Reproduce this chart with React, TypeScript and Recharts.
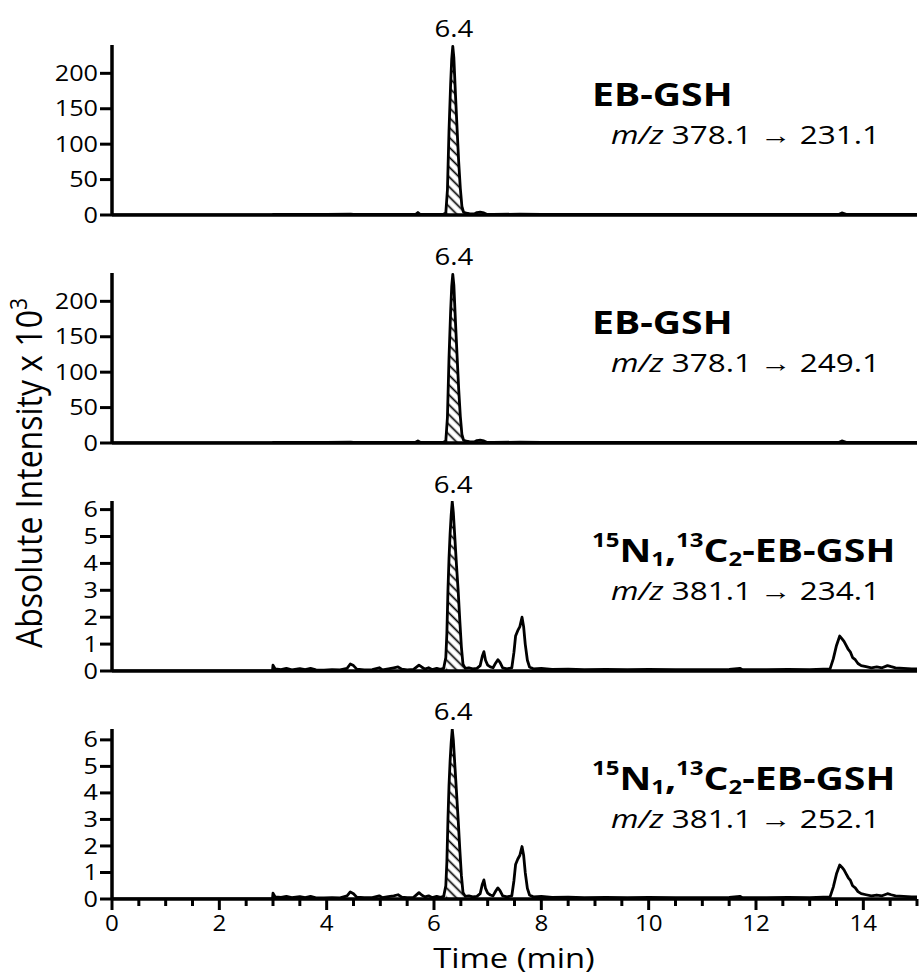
import React from 'react';
import { ComposedChart, Line, Area, XAxis, YAxis, ReferenceDot } from 'recharts';

const FONT = '"Open Sans", "Noto Sans", sans-serif';

// ---------- data ----------
// Panel 1: EB-GSH  m/z 378.1 -> 231.1 (x10^3)
const p1Time = [0, 2.99, 3.0, 3.5, 4.0, 4.45, 4.5, 5.0, 5.5, 5.66, 5.7, 5.74, 6.0, 6.18, 6.22, 6.25, 6.28, 6.31, 6.33, 6.35, 6.37, 6.4, 6.43, 6.46, 6.49, 6.52, 6.55, 6.6, 6.66, 6.75, 6.8, 6.86, 6.93, 6.98, 7.1, 7.6, 8, 9, 10, 11, 12, 13, 13.55, 13.6, 13.68, 14, 14.5, 15];
const p1Value = [0, 0, 1, 0.8, 1, 1.2, 1, 0.8, 1, 1, 3.5, 1, 0.8, 1, 3, 35, 120, 185, 220, 238, 222, 170, 122, 75, 38, 12, 4, 2.5, 2, 1.5, 3.5, 4, 3, 1, 0.8, 1.2, 0.8, 0.8, 0.8, 0.8, 0.8, 0.8, 1, 3, 1, 0.8, 0.8, 0.8];

// Panel 2: EB-GSH  m/z 378.1 -> 249.1 (x10^3)
const p2Time = [0, 2.99, 3.0, 3.5, 4.0, 4.45, 4.5, 5.0, 5.5, 5.66, 5.7, 5.74, 6.0, 6.18, 6.22, 6.25, 6.28, 6.31, 6.33, 6.35, 6.37, 6.4, 6.43, 6.46, 6.49, 6.52, 6.55, 6.6, 6.66, 6.75, 6.8, 6.86, 6.93, 6.98, 7.1, 7.6, 8, 9, 10, 11, 12, 13, 13.55, 13.6, 13.68, 14, 14.5, 15];
const p2Value = [0, 0, 1, 0.8, 1, 1.2, 1, 0.8, 1, 1, 3, 1, 0.8, 1, 3, 36, 121, 186, 221, 238, 223, 171, 123, 76, 38, 12, 4, 2.5, 2, 1.5, 3.5, 4, 3, 1, 0.8, 1.2, 0.8, 0.8, 0.8, 0.8, 0.8, 0.8, 1, 3, 1, 0.8, 0.8, 0.8];

// Panel 3: 15N1,13C2-EB-GSH  m/z 381.1 -> 234.1 (x10^3)
const p3Time = [0, 2.99, 3.0, 3.04, 3.15, 3.25, 3.35, 3.5, 3.6, 3.7, 3.8, 3.95, 4.1, 4.25, 4.38, 4.44, 4.5, 4.56, 4.7, 4.85, 4.98, 5.04, 5.15, 5.25, 5.33, 5.4, 5.5, 5.62, 5.72, 5.77, 5.83, 5.9, 5.97, 6.05, 6.12, 6.18, 6.22, 6.24, 6.26, 6.28, 6.3, 6.32, 6.34, 6.36, 6.39, 6.42, 6.45, 6.48, 6.51, 6.54, 6.58, 6.65, 6.72, 6.8, 6.86, 6.9, 6.93, 6.96, 7.0, 7.05, 7.1, 7.15, 7.19, 7.23, 7.28, 7.36, 7.45, 7.49, 7.52, 7.56, 7.6, 7.64, 7.67, 7.7, 7.74, 7.78, 7.85, 8.0, 8.2, 8.5, 8.8, 9.2, 9.6, 10.0, 10.5, 11.0, 11.5, 11.7, 11.75, 12.2, 12.6, 13.0, 13.38, 13.44, 13.5, 13.56, 13.6, 13.64, 13.68, 13.72, 13.76, 13.8, 13.85, 13.9, 13.96, 14.05, 14.15, 14.25, 14.35, 14.45, 14.52, 14.6, 14.75, 14.9, 15];
const p3Value = [0, 0, 0.22, 0.08, 0.05, 0.1, 0.04, 0.09, 0.05, 0.1, 0.04, 0.03, 0.05, 0.04, 0.1, 0.26, 0.2, 0.07, 0.04, 0.05, 0.12, 0.04, 0.08, 0.12, 0.15, 0.07, 0.04, 0.06, 0.22, 0.15, 0.07, 0.12, 0.05, 0.1, 0.06, 0.1, 0.5, 1.4, 3.0, 4.2, 5.1, 5.8, 6.3, 5.9, 4.9, 3.9, 3.0, 1.9, 0.9, 0.25, 0.1, 0.12, 0.08, 0.1, 0.2, 0.55, 0.72, 0.4, 0.22, 0.15, 0.12, 0.3, 0.42, 0.32, 0.12, 0.08, 0.12, 0.7, 1.3, 1.5, 1.65, 2.0, 1.65, 1.0, 0.4, 0.15, 0.08, 0.1, 0.06, 0.07, 0.05, 0.06, 0.05, 0.06, 0.05, 0.05, 0.06, 0.1, 0.05, 0.05, 0.06, 0.05, 0.08, 0.45, 0.95, 1.3, 1.2, 1.1, 0.95, 0.8, 0.7, 0.5, 0.42, 0.28, 0.2, 0.16, 0.12, 0.15, 0.12, 0.2, 0.16, 0.12, 0.1, 0.08, 0.08];

// Panel 4: 15N1,13C2-EB-GSH  m/z 381.1 -> 252.1 (x10^3)
const p4Time = [0, 2.99, 3.0, 3.04, 3.15, 3.25, 3.35, 3.5, 3.6, 3.7, 3.8, 3.95, 4.1, 4.25, 4.38, 4.44, 4.5, 4.56, 4.7, 4.85, 4.98, 5.04, 5.15, 5.25, 5.33, 5.4, 5.5, 5.62, 5.72, 5.77, 5.83, 5.9, 5.97, 6.05, 6.12, 6.18, 6.22, 6.24, 6.26, 6.28, 6.3, 6.32, 6.34, 6.36, 6.39, 6.42, 6.45, 6.48, 6.51, 6.54, 6.58, 6.65, 6.72, 6.8, 6.86, 6.9, 6.93, 6.96, 7.0, 7.05, 7.1, 7.15, 7.19, 7.23, 7.28, 7.36, 7.45, 7.49, 7.52, 7.56, 7.6, 7.64, 7.67, 7.7, 7.74, 7.78, 7.85, 8.0, 8.2, 8.5, 8.8, 9.2, 9.6, 10.0, 10.5, 11.0, 11.5, 11.7, 11.75, 12.2, 12.6, 13.0, 13.38, 13.44, 13.5, 13.56, 13.6, 13.64, 13.68, 13.72, 13.76, 13.8, 13.85, 13.9, 13.96, 14.05, 14.15, 14.25, 14.35, 14.45, 14.52, 14.6, 14.75, 14.9, 15];
const p4Value = [0, 0, 0.22, 0.08, 0.06, 0.1, 0.05, 0.09, 0.05, 0.1, 0.04, 0.04, 0.05, 0.04, 0.12, 0.27, 0.2, 0.07, 0.05, 0.05, 0.12, 0.05, 0.09, 0.12, 0.16, 0.07, 0.05, 0.06, 0.24, 0.15, 0.08, 0.12, 0.05, 0.1, 0.06, 0.1, 0.5, 1.4, 3.0, 4.3, 5.2, 5.9, 6.4, 6.0, 5.0, 4.0, 3.0, 1.9, 0.9, 0.25, 0.1, 0.12, 0.08, 0.1, 0.2, 0.55, 0.72, 0.4, 0.22, 0.15, 0.12, 0.3, 0.42, 0.32, 0.12, 0.08, 0.12, 0.7, 1.3, 1.5, 1.65, 1.98, 1.65, 1.0, 0.4, 0.15, 0.08, 0.1, 0.06, 0.07, 0.05, 0.06, 0.05, 0.06, 0.05, 0.05, 0.06, 0.1, 0.05, 0.05, 0.06, 0.05, 0.08, 0.45, 0.95, 1.28, 1.2, 1.1, 0.95, 0.8, 0.7, 0.5, 0.42, 0.28, 0.2, 0.16, 0.12, 0.15, 0.12, 0.2, 0.16, 0.12, 0.1, 0.08, 0.08];

const xMajorTicks = [0, 2, 4, 6, 8, 10, 12, 14];
const xAllTicks = [0, 0.5, 1, 1.5, 2, 2.5, 3, 3.5, 4, 4.5, 5, 5.5, 6, 6.5, 7, 7.5, 8, 8.5, 9, 9.5, 10, 10.5, 11, 11.5, 12, 12.5, 13, 13.5, 14, 14.5, 15];
const yTicksHigh = [0, 50, 100, 150, 200];
const yTicksLow = [0, 1, 2, 3, 4, 5, 6];
const yMaxes = [240, 240, 6.32, 6.41];
const peakTimes = [6.35, 6.35, 6.34, 6.34];
const peakLabels = ['6.4', '6.4', '6.4', '6.4'];
const hatchStart = 6.2;
const hatchEnd = 6.56;
const compounds = ['EB-GSH', 'EB-GSH', 'iso', 'iso'];
const precursors = ['378.1', '378.1', '381.1', '381.1'];
const products = ['231.1', '249.1', '234.1', '252.1'];

const buildData = (times: number[], values: number[]) =>
  times.map((t, i) => ({
    t,
    v: values[i],
    h: t >= hatchStart && t <= hatchEnd ? values[i] : null,
  }));

const panels = [
  { data: buildData(p1Time, p1Value), ticks: yTicksHigh },
  { data: buildData(p2Time, p2Value), ticks: yTicksHigh },
  { data: buildData(p3Time, p3Value), ticks: yTicksLow },
  { data: buildData(p4Time, p4Value), ticks: yTicksLow },
];

// ---------- layout ----------
const W = 919;
const PANEL_STEP = 228;
const PLOT_TOP = 45;
const PLOT_H = 170;

const YTick = (props: any) => {
  const { x, y, payload } = props;
  return (
    <text
      transform={`translate(${x},${y}) scale(1.2,1)`}
      textAnchor="end"
      dy="0.36em"
      fontSize={21}
      fontFamily={FONT}
      fontWeight={500}
      fill="#000"
    >
      {payload.value}
    </text>
  );
};

const XTick = (props: any) => {
  const { x, y, payload } = props;
  const v = payload.value;
  const major = xMajorTicks.includes(v);
  return (
    <g>
      <line x1={x} y1={y} x2={x} y2={y + (major ? 11 : 7)} stroke="#000" strokeWidth={3} />
      {major && (
        <text
          transform={`translate(${x},${y + 32}) scale(1.15,1)`}
          textAnchor="middle"
          fontSize={21}
          fontFamily={FONT}
          fontWeight={500}
          fill="#000"
        >
          {v}
        </text>
      )}
    </g>
  );
};

function Panel({ idx }: { idx: number }) {
  const p = panels[idx];
  const last = idx === 3;
  const height = last ? 979 - PANEL_STEP * 3 : PANEL_STEP;
  const xAxisH = last ? height - PLOT_TOP - PLOT_H : 1;
  const peakIdx = p.data.reduce((bi, d, i, arr) => (d.v > arr[bi].v ? i : bi), 0);
  const peakV = p.data[peakIdx].v;
  return (
    <ComposedChart
      width={W}
      height={height}
      data={p.data}
      margin={{ top: PLOT_TOP, right: 2, left: 0, bottom: height - PLOT_TOP - PLOT_H - xAxisH }}
    >
      <defs>
        <pattern
          id={`hatch${idx}`}
          patternUnits="userSpaceOnUse"
          width="7"
          height="7"
          patternTransform="rotate(-45)"
        >
          <line x1="3.5" y1="0" x2="3.5" y2="7" stroke="#000" strokeWidth="1.7" />
        </pattern>
      </defs>
      <XAxis
        type="number"
        dataKey="t"
        domain={[0, 15]}
        allowDataOverflow
        ticks={last ? xAllTicks : []}
        interval={0}
        height={xAxisH}
        tickSize={0}
        tickMargin={0}
        tickLine={false}
        tick={last ? (props: any) => <XTick {...props} /> : false}
        axisLine={{ stroke: '#000', strokeWidth: 3.5 }}
      />
      <YAxis
        type="number"
        domain={[0, yMaxes[idx]]}
        allowDataOverflow
        ticks={p.ticks}
        interval={0}
        width={112}
        tickSize={12}
        tickMargin={2}
        tickLine={{ stroke: '#000', strokeWidth: 3 }}
        axisLine={{ stroke: '#000', strokeWidth: 3.5 }}
        tick={(props: any) => <YTick {...props} />}
      />
      <Area
        dataKey="h"
        type="linear"
        stroke="none"
        fill={`url(#hatch${idx})`}
        fillOpacity={1}
        connectNulls={false}
        isAnimationActive={false}
      />
      <Line
        dataKey="v"
        type="linear"
        stroke="#000"
        strokeWidth={2.8}
        strokeLinejoin="round"
        dot={false}
        activeDot={false}
        isAnimationActive={false}
      />
      <ReferenceDot
        x={peakTimes[idx]}
        y={peakV}
        r={0}
        ifOverflow="visible"
        shape={(sp: any) => (
          <text
            transform={`translate(${sp.cx + 1},${sp.cy - 9}) scale(1.2,1)`}
            textAnchor="middle"
            fontSize={23}
            fontFamily={FONT}
            fontWeight={500}
            fill="#000"
          >
            {peakLabels[idx]}
          </text>
        )}
      />
    </ComposedChart>
  );
}

function Title({ idx }: { idx: number }) {
  const zeroY = PANEL_STEP * idx + PLOT_TOP + PLOT_H;
  const name = compounds[idx];
  return (
    <g>
      <text
        transform={`translate(592,${zeroY - 109}) scale(1.2,1)`}
        fontSize={32.6}
        fontWeight={700}
        fontFamily={FONT}
        fill="#000"
      >
        {name === 'iso' ? (
          <>
            <tspan fontSize={20} dy={-15}>15</tspan>
            <tspan dy={15}>N</tspan>
            <tspan fontSize={20} dy={4}>1</tspan>
            <tspan dy={-4}>,</tspan>
            <tspan fontSize={20} dy={-15}>13</tspan>
            <tspan dy={15}>C</tspan>
            <tspan fontSize={20} dy={4}>2</tspan>
            <tspan dy={-4}>-EB-GSH</tspan>
          </>
        ) : (
          name
        )}
      </text>
      <text
        transform={`translate(611,${zeroY - 71}) scale(1.26,1)`}
        fontSize={25}
        fontFamily={FONT}
        fontWeight={500}
        fill="#000"
      >
        <tspan fontStyle="italic">m/z</tspan>
        {` ${precursors[idx]} \u2192 ${products[idx]}`}
      </text>
    </g>
  );
}

function Overlay() {
  return (
    <svg
      width={W}
      height={979}
      style={{ position: 'absolute', left: 0, top: 0, pointerEvents: 'none' }}
    >
      {[0, 1, 2, 3].map((i) => (
        <Title key={i} idx={i} />
      ))}
      <text
        transform="translate(42,648) scale(1.12,1) rotate(-90)"
        fontSize={32}
        fontFamily={FONT}
        fontWeight={500}
        fill="#000"
      >
        Absolute Intensity x 10
        <tspan fontSize={21} dy={-13}>3</tspan>
      </text>
      <text
        transform="translate(514,968) scale(1.17,1)"
        textAnchor="middle"
        fontSize={28}
        fontFamily={FONT}
        fontWeight={500}
        fill="#000"
      >
        Time (min)
      </text>
    </svg>
  );
}

export default function App() {
  return (
    <div style={{ position: 'absolute', left: 0, top: 0, width: W, height: 979, background: '#fff' }}>
      {[0, 1, 2, 3].map((i) => (
        <div key={i} style={{ position: 'absolute', left: 0, top: PANEL_STEP * i }}>
          <Panel idx={i} />
        </div>
      ))}
      <Overlay />
    </div>
  );
}
